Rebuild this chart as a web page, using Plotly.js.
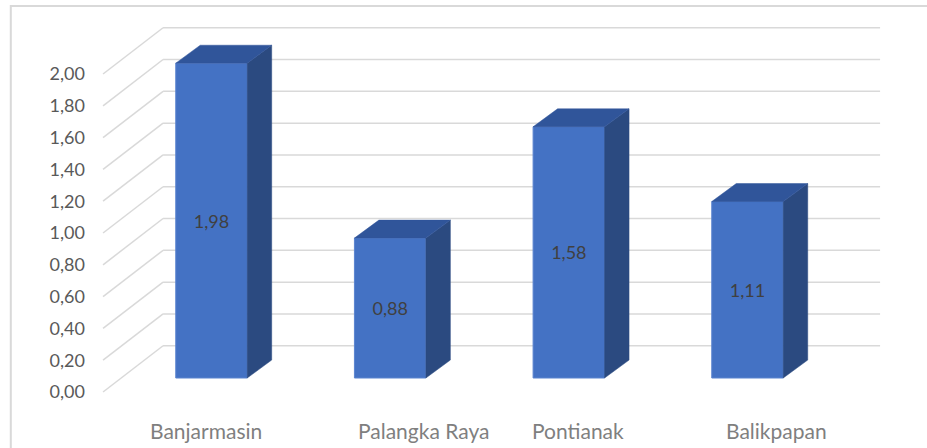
<!DOCTYPE html>
<html>
<head>
<meta charset="utf-8">
<script src="https://cdn.plot.ly/plotly-3.0.1.min.js"></script>
<style>html,body{margin:0;padding:0;background:#fff;}#chart{width:927px;height:448px;}</style>
</head>
<body>
<div id="chart"></div>
<script>
// ---- data ----
const categories = ['Banjarmasin', 'Palangka Raya', 'Pontianak', 'Balikpapan'];
const values = [1.98, 0.88, 1.58, 1.11];
const tickValues = [0, 0.2, 0.4, 0.6, 0.8, 1.0, 1.2, 1.4, 1.6, 1.8, 2.0];

// ---- 3D look (styling / geometry constants) ----
const positions = categories.map((c, i) => i);
const barWidth = 0.4;
const barDx = 0.137, barDy = 0.113;      // bar depth offset (axis units)
const frontDy = -0.088, backDy = 0.203;  // floor front / back wall relative to bars
const wallFrontX = -0.607, wallBackX = -0.271, wallRightX = 3.742;
const colFront = '#4472c4', colSide = '#2b4a80', colTop = '#30559a', gridCol = '#d9d9d9';
const fontFam = 'Lato, "Open Sans", sans-serif';

const traces = [];
traces.push({
  type: 'bar', x: positions, y: values, width: barWidth,
  marker: {color: colFront, line: {color: '#5b84cf', width: 1}},
  texttemplate: '%{y:.2f}', textposition: 'inside', insidetextanchor: 'middle',
  textfont: {family: fontFam, size: 18, color: '#404040'},
  hoverinfo: 'skip', showlegend: false
});
positions.forEach((p, i) => {
  const v = values[i];
  const r = p + barWidth / 2, l = p - barWidth / 2;
  traces.push({
    type: 'scatter', mode: 'lines', fill: 'toself', fillcolor: colSide,
    x: [r, r + barDx, r + barDx, r, r], y: [0, barDy, v + barDy, v, 0],
    line: {width: 0.5, color: colSide}, hoverinfo: 'skip', showlegend: false
  });
  traces.push({
    type: 'scatter', mode: 'lines', fill: 'toself', fillcolor: colTop,
    x: [l, r, r + barDx, l + barDx, l], y: [v, v, v + barDy, v + barDy, v],
    line: {width: 0.5, color: colTop}, hoverinfo: 'skip', showlegend: false
  });
});
traces.push({type: 'scatter', x: [null], y: [null], yaxis: 'y2', hoverinfo: 'skip', showlegend: false});

const shapes = [];
tickValues.forEach(t => {
  shapes.push({type: 'line', layer: 'below', xref: 'x', yref: 'y',
    x0: wallBackX, x1: wallRightX, y0: t + backDy, y1: t + backDy,
    line: {color: gridCol, width: 1.5}});
  shapes.push({type: 'line', layer: 'below', xref: 'x', yref: 'y',
    x0: wallFrontX, x1: wallBackX, y0: t + frontDy, y1: t + backDy,
    line: {color: gridCol, width: 1.5}});
});
shapes.push({type: 'rect', xref: 'paper', yref: 'paper', layer: 'below',
  x0: -0.1115, x1: 1.06, y0: -0.1, y1: 1.035, line: {color: gridCol, width: 2}});

const labelShift = [-5, 33, 9, 29];
const annotations = categories.map((c, i) => ({
  x: positions[i], xref: 'x', y: 0, yref: 'paper', yanchor: 'top', yshift: 4,
  xshift: labelShift[i], text: c, showarrow: false,
  font: {family: fontFam, size: 21, color: '#7f7f7f'}
}));

const yRange = [-0.2641, 2.2516];
const layout = {
  width: 927, height: 448,
  margin: {l: 100, r: 27, t: 20, b: 28},
  paper_bgcolor: '#fff', plot_bgcolor: 'rgba(0,0,0,0)',
  separators: ',.',
  showlegend: false,
  xaxis: {range: [-0.624, 3.8535], showgrid: false, zeroline: false, showline: false,
          showticklabels: false, fixedrange: true},
  yaxis: {range: yRange, showgrid: false, zeroline: false, showline: false,
          showticklabels: false, fixedrange: true},
  yaxis2: {range: [yRange[0] - frontDy, yRange[1] - frontDy], overlaying: 'y', side: 'left',
           tickvals: tickValues, tickformat: '.2f', showgrid: false, zeroline: false,
           showline: false, ticks: '', ticklabelstandoff: 14,
           tickfont: {family: fontFam, size: 18, color: '#595959'}, fixedrange: true},
  shapes: shapes,
  annotations: annotations
};
Plotly.newPlot('chart', traces, layout, {displayModeBar: false, staticPlot: true});
</script>
</body>
</html>
